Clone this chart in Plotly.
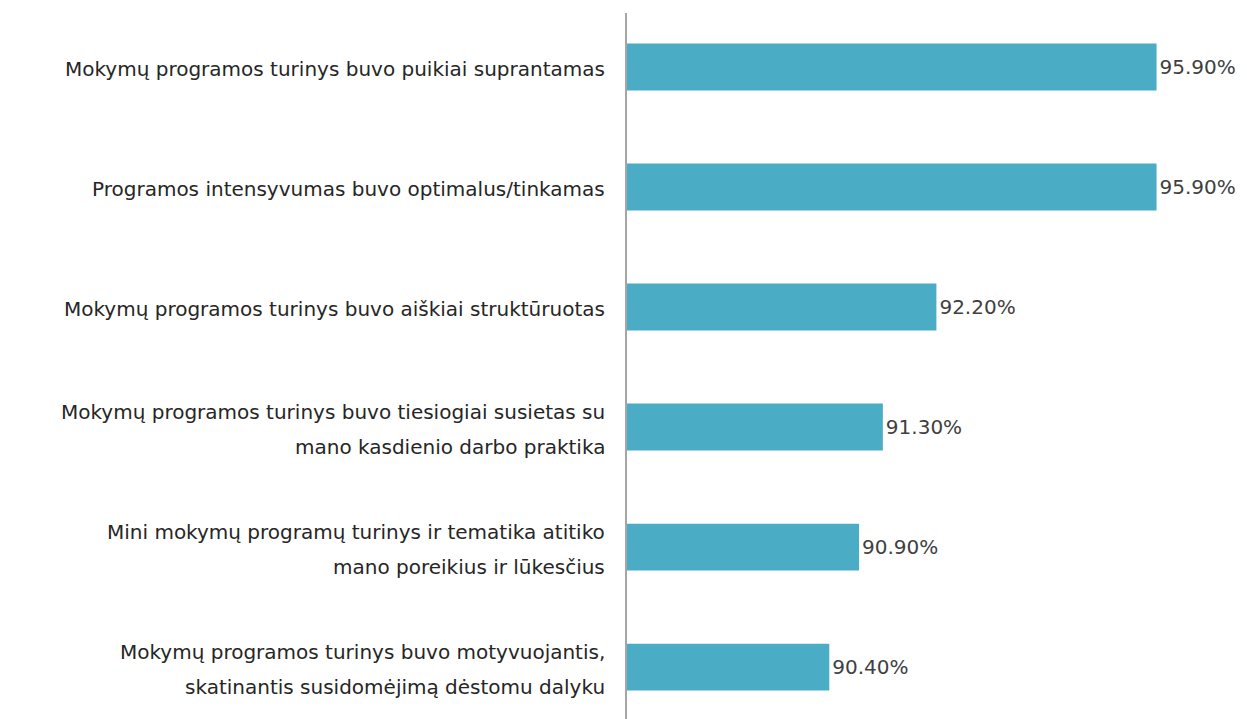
import plotly.graph_objects as go

categories = [
    "Mokymų programos turinys buvo puikiai suprantamas",
    "Programos intensyvumas buvo optimalus/tinkamas",
    "Mokymų programos turinys buvo aiškiai struktūruotas",
    "Mokymų programos turinys buvo tiesiogiai susietas su\nmano kasdienio darbo praktika",
    "Mini mokymų programų turinys ir tematika atitiko\nmano poreikius ir lūkesčius",
    "Mokymų programos turinys buvo motyvuojantis,\nskatinantis susidomėjimą dėstomu dalyku",
]
values = [95.9, 95.9, 92.2, 91.3, 90.9, 90.4]
value_labels = ["95.90%", "95.90%", "92.20%", "91.30%", "90.90%", "90.40%"]

FONT = "DejaVu Sans"
LINE_GAP = 35

fig = go.Figure(go.Bar(
    x=values, y=categories, orientation="h",
    marker=dict(color="#4BACC6", line=dict(width=0)),
    text=value_labels, textposition="outside",
    textfont=dict(size=20, color="#404040", family=FONT),
    cliponaxis=False, width=0.39,
))

# category labels as annotations (one per line, to get the wide line spacing)
for cat in categories:
    lines = cat.split("\n")
    n = len(lines)
    for i, ln in enumerate(lines):
        shift = ((n - 1) / 2 - i) * LINE_GAP - 2
        fig.add_annotation(
            x=0, xref="paper", y=cat, yref="y", text=ln, showarrow=False,
            xanchor="right", yanchor="middle", xshift=-20, yshift=shift,
            font=dict(family=FONT, size=20, color="#262626"),
        )

fig.update_layout(
    width=1247, height=719,
    margin=dict(l=627, r=0, t=13, b=0),
    paper_bgcolor="white", plot_bgcolor="white",
    showlegend=False,
    font=dict(family=FONT, size=20, color="#262626"),
    xaxis=dict(range=[87, 97.42], visible=False, showgrid=False, zeroline=False),
    yaxis=dict(range=[5.433, -0.45], showline=True, linecolor="#A6A6A6", linewidth=1.5,
               ticks="", showticklabels=False, showgrid=False),
)

fig.write_html("out.html", post_script="document.body.style.margin='0';",
               config={"displayModeBar": False})
